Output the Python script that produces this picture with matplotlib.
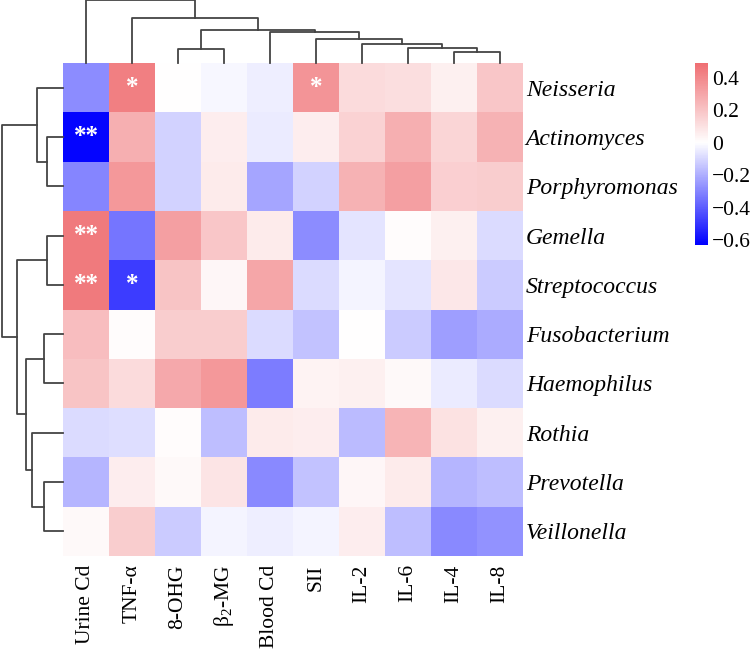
import numpy as np
import matplotlib
matplotlib.use('Agg')
import matplotlib.pyplot as plt
from matplotlib.colors import LinearSegmentedColormap

plt.rcParams['font.family'] = ['Liberation Serif', 'DejaVu Serif']
plt.rcParams['mathtext.fontset'] = 'custom'
plt.rcParams['mathtext.rm'] = 'Liberation Serif'
plt.rcParams['mathtext.it'] = 'Liberation Serif:italic'

COLUMNS = ['Urine Cd', 'TNF-α', '8-OHG', 'β$_2$-MG', 'Blood Cd',
           'SII', 'IL-2', 'IL-6', 'IL-4', 'IL-8']

GENERA = ['Neisseria', 'Actinomyces', 'Porphyromonas', 'Gemella', 'Streptococcus',
          'Fusobacterium', 'Haemophilus', 'Rothia', 'Prevotella', 'Veillonella']

# correlation values, one list per genus (same order as COLUMNS)
neisseria = [-0.28, 0.43, 0.00, -0.02, -0.04, 0.36, 0.12, 0.11, 0.05, 0.19]
actinomyces = [-0.62, 0.27, -0.11, 0.06, -0.05, 0.06, 0.15, 0.27, 0.14, 0.26]
porphyromonas = [-0.30, 0.35, -0.11, 0.07, -0.22, -0.11, 0.26, 0.32, 0.16, 0.17]
gemella = [0.45, -0.34, 0.32, 0.19, 0.07, -0.28, -0.07, 0.01, 0.05, -0.09]
streptococcus = [0.45, -0.48, 0.20, 0.03, 0.30, -0.09, -0.03, -0.07, 0.08, -0.13]
fusobacterium = [0.22, 0.01, 0.17, 0.17, -0.09, -0.15, 0.00, -0.13, -0.24, -0.21]
haemophilus = [0.20, 0.12, 0.29, 0.35, -0.32, 0.04, 0.05, 0.02, -0.05, -0.09]
rothia = [-0.09, -0.08, 0.01, -0.16, 0.07, 0.06, -0.17, 0.25, 0.10, 0.05]
prevotella = [-0.18, 0.06, 0.02, 0.09, -0.29, -0.15, 0.03, 0.07, -0.18, -0.16]
veillonella = [0.02, 0.17, -0.13, -0.03, -0.04, -0.03, 0.06, -0.16, -0.29, -0.27]

# significance marks (row, col, text)
SIG = [(0, 1, '*'), (0, 5, '*'), (1, 0, '**'), (3, 0, '**'), (4, 0, '**'), (4, 1, '*')]

# cluster merges: (left, right, height); ids >= n are earlier merges
COL_LINKAGE = [(8, 9, 11), (7, 10, 15), (6, 11, 19), (5, 12, 24), (4, 13, 31),
               (2, 3, 14), (15, 14, 33), (1, 16, 45), (0, 17, 63)]
ROW_LINKAGE = [(1, 2, 16.3), (0, 10, 26.3), (3, 4, 16.3), (5, 6, 18.7), (8, 9, 18.7),
               (7, 14, 31.3), (13, 15, 37), (12, 16, 45.7), (11, 17, 61.3)]

VMIN, VMAX = -0.63, 0.49
CBAR_TICKS = [0.4, 0.2, 0, -0.2, -0.4, -0.6]
CBAR_LABELS = ['0.4', '0.2', '0', '\u22120.2', '\u22120.4', '\u22120.6']


def dendro_segments(linkage, n):
    # leaf i sits at position i + 0.5, height 0
    pos = {i: (i + 0.5, 0.0) for i in range(n)}
    segs = []
    for k, (a, b, h) in enumerate(linkage):
        xa, ha = pos[a]
        xb, hb = pos[b]
        segs.append(([xa, xa, xb, xb], [ha, h, h, hb]))
        pos[n + k] = ((xa + xb) / 2, h)
    return segs


def main():
    data = np.array([neisseria, actinomyces, porphyromonas, gemella, streptococcus,
                     fusobacterium, haemophilus, rothia, prevotella, veillonella])
    nr, nc = data.shape

    zero = (0 - VMIN) / (VMAX - VMIN)
    cmap = LinearSegmentedColormap.from_list(
        'bwr_soft', [(0, '#0000FF'), (zero, '#FFFFFF'), (1, '#EF6E72')])

    fig = plt.figure(figsize=(7.5, 6.56), dpi=100)
    left, right, top, bottom = 0.084, 0.6973, 0.904, 0.1524

    ax = fig.add_axes([left, bottom, right - left, top - bottom])
    mesh = ax.pcolormesh(data, cmap=cmap, vmin=VMIN, vmax=VMAX)
    ax.set_xlim(0, nc)
    ax.set_ylim(nr, 0)
    for s in ax.spines.values():
        s.set_visible(False)
    ax.set_xticks(np.arange(nc) + 0.5)
    ax.set_xticklabels(COLUMNS, rotation=90, fontsize=15.5)
    ax.set_yticks(np.arange(nr) + 0.5)
    ax.set_yticklabels(GENERA, fontsize=17, style='italic')
    ax.yaxis.tick_right()
    ax.tick_params(axis='x', length=0, pad=6)
    ax.tick_params(axis='y', length=0, pad=2)
    for r, c, t in SIG:
        ax.text(c + 0.5, r + 0.5, t, ha='center', va='center', color='white',
                fontsize=18, fontweight='bold')

    # top dendrogram
    axt = fig.add_axes([left, top, right - left, 1 - top])
    for xs, ys in dendro_segments(COL_LINKAGE, nc):
        axt.plot(xs, ys, color='#444444', lw=1.3, clip_on=False)
    axt.set_xlim(0, nc)
    axt.set_ylim(0, 63)
    axt.axis('off')

    # left dendrogram
    axl = fig.add_axes([0, bottom, left, top - bottom])
    for ys, xs in dendro_segments(ROW_LINKAGE, nr):
        axl.plot(xs, ys, color='#444444', lw=1.3, clip_on=False)
    axl.set_ylim(nr, 0)
    axl.set_xlim(63, 0)
    axl.axis('off')

    # colorbar
    cax = fig.add_axes([0.9267, 0.6265, 0.0173, 0.2775])
    cb = fig.colorbar(mesh, cax=cax)
    cb.outline.set_visible(False)
    cb.set_ticks(CBAR_TICKS)
    cb.set_ticklabels(CBAR_LABELS)
    cax.tick_params(length=0, labelsize=15.5, pad=3)

    fig.savefig('out.png', dpi=100)
    plt.close(fig)


if __name__ == '__main__':
    main()
